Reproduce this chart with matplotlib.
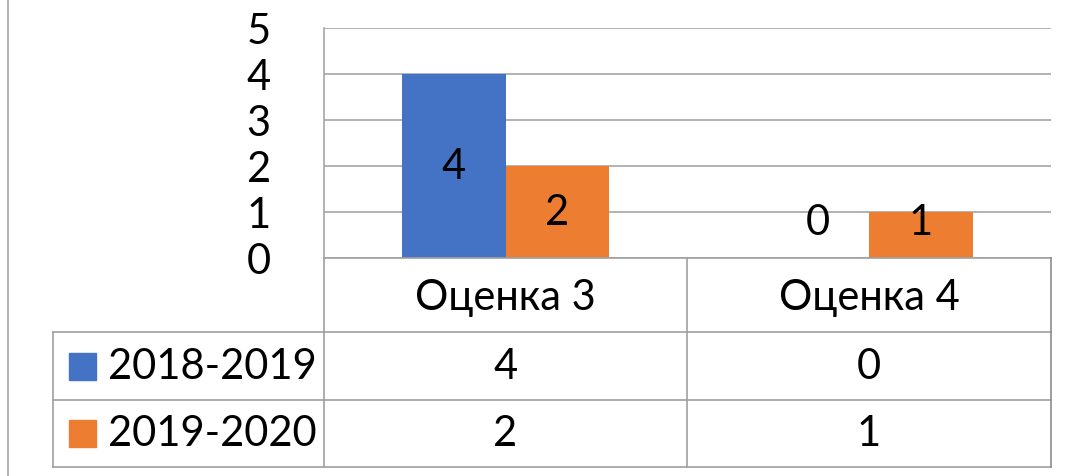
import matplotlib
matplotlib.use("Agg")
import matplotlib.pyplot as plt
from matplotlib.lines import Line2D
from matplotlib.patches import Rectangle

categories = ["Оценка 3", "Оценка 4"]
series_names = ["2018-2019", "2019-2020"]
values_2018 = [4, 0]
values_2019 = [2, 1]
colors = ["#4472C4", "#ED7D31"]
yticks = [0, 1, 2, 3, 4, 5]

W, H = 1077, 477
plt.rcParams['font.family'] = ['Lato', 'DejaVu Sans']
FS = 30
fig = plt.figure(figsize=(W / 100, H / 100), dpi=100)

def fx(px):
    return px / W

def fy(py):
    return 1 - py / H

ax_l, ax_r, ax_t, ax_b = 324, 1051, 29, 259
ax = fig.add_axes([fx(ax_l), fy(ax_b), fx(ax_r - ax_l), (ax_b - ax_t) / H])
grid_c = "#A6A6A6"
ax.set_xlim(-0.5, len(categories) - 0.5)
ax.set_ylim(0, 5)
ax.set_yticks(yticks)
ax.set_yticklabels([str(t) for t in yticks], fontsize=FS)
ax.tick_params(axis='y', length=0, pad=47)
for lab in ax.get_yticklabels():
    lab.set_horizontalalignment('center')
ax.set_xticks([])
ax.grid(axis='y', color=grid_c, linewidth=1.2)
ax.set_axisbelow(True)
for s in ['top', 'right', 'bottom']:
    ax.spines[s].set_visible(False)
ax.spines['left'].set_color(grid_c)
ax.spines['left'].set_linewidth(1.2)

bw = 0.285
all_vals = [values_2018, values_2019]
for i, vals in enumerate(all_vals):
    off = (i - 0.5) * bw
    xs = [k + off for k in range(len(categories))]
    ax.bar(xs, vals, width=bw, color=colors[i], zorder=2)
    for x, v in zip(xs, vals):
        ax.text(x, max(v / 2, 0.78), str(v), ha='center', va='center',
                fontsize=FS, color='black', zorder=3)

# data table
line_c = "#A0A0A0"
tab_l, tab_mid, tab_r = 53, 687, 1051
rows_y = [259, 333, 401, 468]

def hline(x0, x1, y, c=line_c):
    fig.add_artist(Line2D([fx(x0), fx(x1)], [fy(y), fy(y)], color=c, linewidth=1.2))

def vline(x, y0, y1, c=line_c):
    fig.add_artist(Line2D([fx(x), fx(x)], [fy(y0), fy(y1)], color=c, linewidth=1.2))

hline(ax_l, tab_r, rows_y[0])
hline(ax_l, tab_r, rows_y[1])
hline(tab_l, ax_l, rows_y[1])
hline(tab_l, tab_r, rows_y[2])
hline(tab_l, tab_r, rows_y[3])
vline(ax_l, rows_y[0], rows_y[3])
vline(tab_mid, rows_y[0], rows_y[3])
vline(tab_r, rows_y[0], rows_y[3], c="#8C8C8C")
vline(tab_l, rows_y[1], rows_y[3])

col_centers = [(ax_l + tab_mid) / 2, (tab_mid + tab_r) / 2]
for c, cat in zip(col_centers, categories):
    fig.text(fx(c), fy((rows_y[0] + rows_y[1]) / 2 + 2), cat, ha='center', va='center', fontsize=FS)

for r, (name, vals) in enumerate(zip(series_names, all_vals)):
    yc = (rows_y[r + 1] + rows_y[r + 2]) / 2
    fig.add_artist(Rectangle((fx(69), fy(yc + 13.5)), fx(27), 27 / H,
                             color=colors[r], transform=fig.transFigure))
    fig.text(fx(108), fy(yc), name, ha='left', va='center', fontsize=FS)
    for c, v in zip(col_centers, vals):
        fig.text(fx(c), fy(yc), str(v), ha='center', va='center', fontsize=FS)

# outer left border
vline(8, 0, 477, c="#A6A6A6")

fig.savefig("out.png", dpi=100, facecolor='white')
